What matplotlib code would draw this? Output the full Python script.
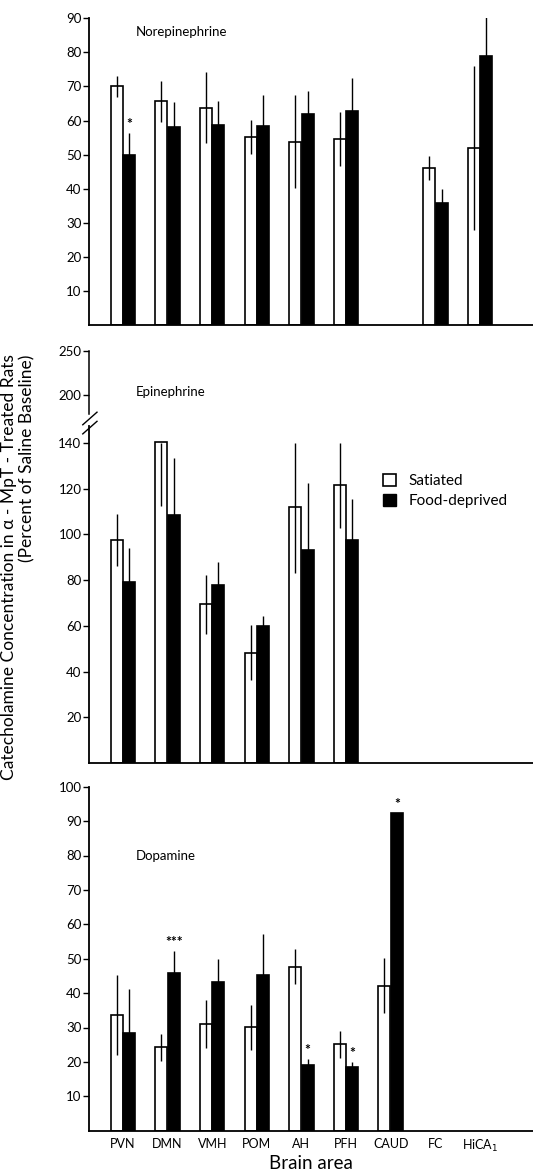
import numpy as np
import matplotlib
matplotlib.use('Agg')
import matplotlib.pyplot as plt
from matplotlib.patches import Patch

plt.rcParams['font.family'] = ['Lato', 'DejaVu Sans']

areas = ['PVN', 'DMN', 'VMH', 'POM', 'AH', 'PFH', 'CAUD', 'FC', 'HiCA$_1$']

# Norepinephrine (None = not measured)
ne_sat = [70, 65.6, 63.8, 55.1, 53.8, 54.6, None, 46, 51.9]
ne_sat_err = [3, 6, 10.5, 5, 13.7, 8, None, 3.5, 24]
ne_dep = [50, 58, 58.7, 58.5, 61.8, 62.8, None, 35.9, 78.8]
ne_dep_err = [6.3, 7.5, 7, 9, 7, 9.6, None, 4, 13]
ne_sig = ['*', '', '', '', '', '', '', '', '']

# Epinephrine
epi_sat = [97.6, 140.3, 69.4, 48.2, 112, 121.7, None, None, None]
epi_sat_err = [11.5, 28, 13, 12, 29, 19, None, None, None]
epi_dep = [79.4, 108.5, 78.1, 59.8, 93.4, 97.5, None, None, None]
epi_dep_err = [14.5, 25, 10, 4.5, 29, 18, None, None, None]
epi_sig = [''] * 9

# Dopamine
da_sat = [33.6, 24.2, 30.9, 30.1, 47.7, 25.1, 42.1, None, None]
da_sat_err = [11.7, 4, 7, 6.5, 5, 4, 8, None, None]
da_dep = [28.3, 45.7, 43.2, 45.2, 19, 18.4, 92.4, None, None]
da_dep_err = [13, 6.5, 6.7, 12, 1.8, 1.7, 0, None, None]
da_sig = ['', '***', '', '', '*', '*', '*', '', '']

W = 533
H = 1175
fig = plt.figure(figsize=(W / 100, H / 100), dpi=100)

x = np.arange(len(areas))
bw = 0.27
off = 0.14


def panel(rect, sat, sat_err, dep, dep_err, sig, title, title_y, ylim, yticks, cap=None):
    ax = fig.add_axes(rect)
    for i in range(len(areas)):
        if sat[i] is not None:
            ax.bar(x[i] - off, sat[i], bw, color='white', edgecolor='black', linewidth=1.2, zorder=2)
            up = sat_err[i] if cap is None else min(sat_err[i], cap - sat[i])
            ax.vlines(x[i] - off, sat[i] - sat_err[i], sat[i] + up, color='black', linewidth=1.0, zorder=3)
        if dep[i] is not None:
            ax.bar(x[i] + off, dep[i], bw, color='black', edgecolor='black', linewidth=1.2, zorder=2)
            ax.vlines(x[i] + off, dep[i], dep[i] + dep_err[i], color='black', linewidth=1.0, zorder=3)
            if sig[i]:
                ax.text(x[i] + off, dep[i] + dep_err[i] + 0.8, sig[i], ha='center', va='bottom',
                        fontsize=10, fontweight='bold')
    ax.set_xlim(-0.762, 9.19)
    ax.set_ylim(*ylim)
    ax.set_yticks(yticks)
    ax.spines['top'].set_visible(False)
    ax.spines['right'].set_visible(False)
    ax.spines['left'].set_linewidth(1.3)
    ax.spines['bottom'].set_linewidth(1.3)
    ax.tick_params(axis='y', direction='out', length=4, width=1, pad=1.5, labelsize=9.5)
    ax.set_xticks([])
    ax.text(0.105, title_y, title, transform=ax.transAxes, fontsize=9.5, va='center')
    return ax


def px_rect(top_px, bottom_px):
    return [89 / W, 1 - bottom_px / H, 1 - 89 / W, (bottom_px - top_px) / H]


ax1 = panel(px_rect(18.3, 325), ne_sat, ne_sat_err, ne_dep, ne_dep_err, ne_sig,
            'Norepinephrine', 0.955, (0, 90), np.arange(10, 91, 10))

ax2 = panel(px_rect(350.7, 763), epi_sat, epi_sat_err, epi_dep, epi_dep_err, epi_sig,
            'Epinephrine', 0.9, (0, 180.4), [20, 40, 60, 80, 100, 120, 140, 161, 180.4], cap=140)
ax2.set_yticklabels(['20', '40', '60', '80', '100', '120', '140', '200', '250'])
# axis break on the left spine
ax2.spines['left'].set_bounds(0, 147.5)
ax2.plot([0, 0], [152.5, 180.4], color='black', linewidth=1.1, clip_on=False,
         transform=ax2.get_yaxis_transform())
for yb in (146.5, 150.5):
    ax2.plot([-0.014, 0.018], [yb - 2.5, yb + 3.0], color='black', linewidth=1.0,
             clip_on=False, transform=ax2.get_yaxis_transform())

ax2.legend(handles=[Patch(facecolor='white', edgecolor='black', linewidth=1.2),
                    Patch(facecolor='black', edgecolor='black')],
           labels=['Satiated', 'Food-deprived'], loc='upper left',
           bbox_to_anchor=(383 / W, 1 - 474 / H), bbox_transform=fig.transFigure,
           frameon=False, fontsize=11, handlelength=0.85, handleheight=0.85,
           handletextpad=0.8, labelspacing=0.35, borderpad=0, borderaxespad=0)

ax3 = panel(px_rect(786.7, 1130.7), da_sat, da_sat_err, da_dep, da_dep_err, da_sig,
            'Dopamine', 0.8, (0, 100), np.arange(10, 101, 10))
ax3.set_xticks(x)
ax3.set_xticklabels(areas, fontsize=9)
ax3.tick_params(axis='x', length=0, pad=5)
ax3.set_xlabel('Brain area', fontsize=13.5, labelpad=1)

fig.text(9 / W, 1 - 567 / H, 'Catecholamine Concentration in α - MpT - Treated Rats',
         rotation=90, ha='center', va='center', fontsize=12.5)
fig.text(27 / W, 1 - 458 / H, '(Percent of Saline Baseline)',
         rotation=90, ha='center', va='center', fontsize=12.5)

fig.savefig('out.png', dpi=100)
